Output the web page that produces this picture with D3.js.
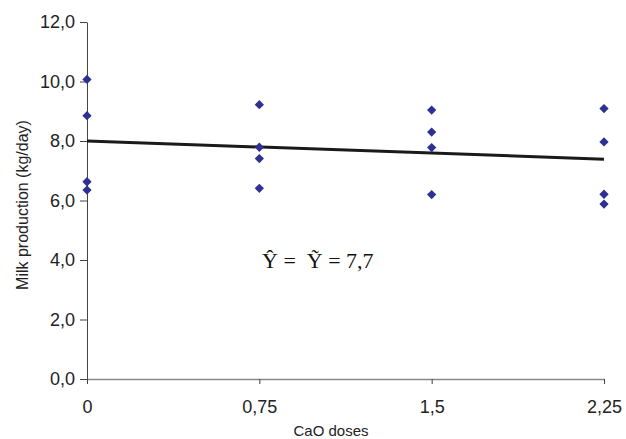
<!DOCTYPE html>
<html>
<head>
<meta charset="utf-8">
<script src="https://cdn.jsdelivr.net/npm/d3@7"></script>
<style>
  body { margin: 0; background: #fff; }
  svg { display: block; font-family: "Liberation Sans", Arial, sans-serif; }
</style>
</head>
<body>
<svg id="chart"></svg>
<script>
// CaO doses on the x axis
const doses = [0, 0.75, 1.5, 2.25];
const doseLabels = ["0", "0,75", "1,5", "2,25"];

// observed milk production (kg/day), one list per dose
const milk0 = [10.07, 8.85, 6.63, 6.35];
const milk075 = [9.22, 7.79, 7.41, 6.41];
const milk15 = [9.04, 8.30, 7.78, 6.20];
const milk225 = [9.09, 7.97, 6.21, 5.88];

// fitted line, value at first and last dose
const fitX = [0, 2.25];
const fitY = [8.0, 7.39];

const yTicks = [0, 2, 4, 6, 8, 10, 12];

var width = 626, height = 439;
var svg = d3.select("#chart").attr("width", width).attr("height", height);

var x = d3.scaleLinear().domain([0, 2.25]).range([87, 604]);
var y = d3.scaleLinear().domain([0, 12]).range([379, 22]);

var fmt = v => d3.format(".1f")(v).replace(".", ",");

// y axis
var yAxis = svg.append("g")
  .attr("transform", `translate(${x(0)},0)`)
  .call(d3.axisLeft(y).tickValues(yTicks).tickFormat(fmt).tickSize(7).tickPadding(5).tickSizeOuter(0));
yAxis.select(".domain").attr("stroke", "#444");
yAxis.selectAll(".tick line").attr("stroke", "#444");
yAxis.selectAll(".tick text").attr("font-size", 18).attr("fill", "#222");

// x axis
var xAxis = svg.append("g")
  .attr("transform", `translate(0,${y(0)})`)
  .call(d3.axisBottom(x).tickValues(doses).tickFormat((d, i) => doseLabels[i]).tickSize(5).tickPadding(16).tickSizeOuter(0));
xAxis.select(".domain").attr("stroke", "#888").attr("stroke-width", 1.5);
xAxis.selectAll(".tick line").attr("stroke", "#444");
xAxis.selectAll(".tick text").attr("font-size", 18).attr("fill", "#222");

// axis titles
svg.append("text")
  .attr("x", 331)
  .attr("y", 436)
  .attr("text-anchor", "middle")
  .attr("font-size", 15)
  .attr("fill", "#222")
  .text("CaO doses");

svg.append("text")
  .attr("transform", `translate(28,205) rotate(-90)`)
  .attr("text-anchor", "middle")
  .attr("font-size", 16)
  .attr("fill", "#222")
  .text("Milk production (kg/day)");

// fitted line
svg.append("line")
  .attr("x1", x(fitX[0])).attr("y1", y(fitY[0]))
  .attr("x2", x(fitX[1])).attr("y2", y(fitY[1]))
  .attr("stroke", "#1a1a1a")
  .attr("stroke-width", 3);

// points
var groups = [milk0, milk075, milk15, milk225];
var pts = [];
groups.forEach((g, i) => g.forEach(v => pts.push({ dose: doses[i], value: v })));

svg.append("g").selectAll("path")
  .data(pts)
  .join("path")
  .attr("transform", d => `translate(${x(d.dose)},${y(d.value)})`)
  .attr("d", d3.symbol().type(d3.symbolDiamond2).size(55))
  .attr("fill", "#2e3192");

// equation
svg.append("text")
  .attr("x", 262)
  .attr("y", 268)
  .attr("font-family", "'Liberation Serif', 'Times New Roman', serif")
  .attr("font-size", 22)
  .attr("fill", "#111")
  .text("\u0176 = \u00a0\u1EF8 = 7,7");
</script>
</body>
</html>
